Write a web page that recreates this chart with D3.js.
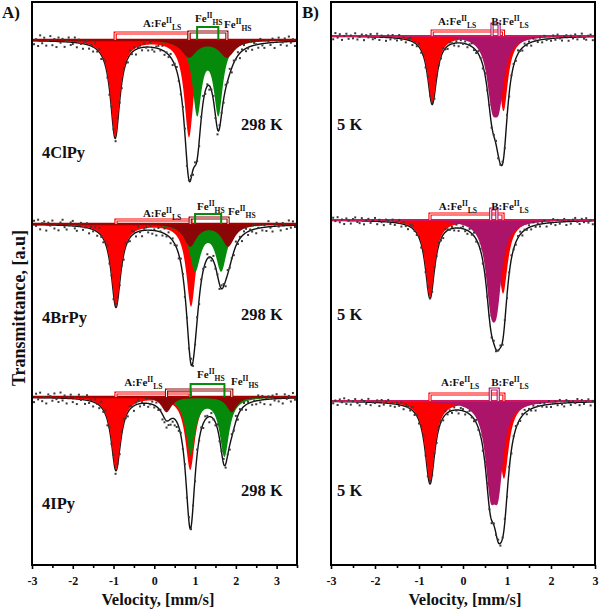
<!DOCTYPE html>
<html><head><meta charset="utf-8">
<script src="https://cdn.jsdelivr.net/npm/d3@7"></script>
<style>
body{margin:0;background:#fff}
text{font-family:"Liberation Serif","Times New Roman",serif;font-weight:bold;fill:#111}
</style>
</head><body><svg id="c" width="600" height="610"></svg>
<script>
// ---------------- DATA ----------------
const ticks = [-3,-2,-1,0,1,2,3];
const minorTicksA = [-2.5,-1.5,-0.5,0.5,1.5,2.5,3.5];
const minorTicksB = [-2.5,-1.5,-0.5,0.5,1.5,2.5];
const samplesA = ["4ClPy","4BrPy","4IPy"];
const tempsA = ["298 K","298 K","298 K"];
const tempsB = ["5 K","5 K","5 K"];
const baseA = [93.25, 60.57, 29.84];   // transmittance baselines (a.u.)
const baseB = [93.96, 61.28, 29.13];

// Panel A, site A Fe(II) LS doublets (red)
const lsPosA   = [[-0.96,0.85],[-0.94,0.90],[-0.94,0.88]];
const lsDepthA = [[17.2,17.2],[14.6,14.6],[12.9,12.9]];
const lsWidthA = [0.28,0.28,0.28];
// Panel A, Fe(II) HS doublet (green)
const hs1PosA   = [[1.05,1.57],[1.00,1.64],[0.89,1.72]];
const hs1DepthA = [[12.8,12.8],[8.0,8.0],[10.0,10.4]];
const hs1WidthA = [0.27,0.33,0.28];
// Panel A, second Fe(II) HS doublet (dark red)
const hs2PosA   = [[0.85,1.78],[0.88,1.81],[0.30,1.90]];
const hs2DepthA = [[3.0,3.0],[3.9,3.9],[2.7,2.7]];
const hs2WidthA = [0.45,0.38,0.30];

// Panel B, site A Fe(II) LS (red)
const lsPosB   = [[-0.70,0.92],[-0.75,0.91],[-0.75,0.93]];
const lsDepthB = [[11.9,13.3],[13.7,13.0],[14.4,13.7]];
const lsWidthB = [0.25,0.26,0.27];
// Panel B, site B Fe(II) LS (wine)
const lsbPosB   = [[0.66,0.82],[0.63,0.77],[0.62,0.80]];
const lsbDepthB = [[9.6,9.6],[11.4,11.4],[13.0,13.0]];
const lsbWidthB = [0.28,0.28,0.28];

// measured points: residuals from the fit (0.1 a.u.), channels every 0.05 mm/s
const noiseA1 = [8,-6,3,-9,10,-4,6,-8,1,9,-7,4,-10,7,-2,5,-9,2,8,-5,
-3,9,-8,6,-1,-9,4,7,-6,2,-8,10,-3,5,-7,1,8,-4,-9,6,
3,-6,9,-2,-8,5,1,-7,8,-3,6,-9,2,4,-5,7,-1,-6,9,-4,
-7,3,5,-2,8,-6,1,-4,6,-8,2,7,-3,-5,4,9,-7,0,5,-9,
6,-2,-8,4,10,-5,3,-7,1,8,-4,-9,5,2,-6,7,-3,9,-8,4,
-1,6,-9,3,8,-5,-2,10,-7,4,1,-6,9,-3,-8,5,2,-4,7,-10,
3,8,-5,-1,6,-7,9,-2,4,-8,5];
const noiseA2 = [-5,7,-2,9,-8,3,6,-10,4,-1,8,-6,2,-9,5,10,-3,-7,1,6,
9,-4,-8,2,7,-5,0,8,-9,4,-3,6,-7,10,-2,-6,3,9,-5,1,
-8,5,7,-3,2,-9,6,-1,-6,8,4,-7,9,-2,-10,3,5,-4,8,-6,
2,-8,6,1,-5,9,-3,7,-9,4,-2,5,-7,8,3,-6,1,-4,10,-8,
-2,6,-9,5,3,-7,8,-1,-5,9,-3,2,-8,6,4,-10,7,-2,1,-6,
8,-4,3,-9,5,7,-6,2,-3,9,-8,1,6,-5,4,-7,10,-2,-9,3,
6,-1,-8,5,2,-6,9,-4,7,-3,-9];
const noiseA3 = [4,-8,7,-3,9,-6,1,-10,6,3,-5,8,-2,-7,10,-4,5,-9,2,7,
-6,3,-9,8,-1,5,-7,9,-4,2,-8,6,0,-5,10,-3,7,-9,4,-2,
8,-6,3,-8,5,9,-2,-7,6,1,-9,4,7,-5,2,-3,8,-6,-1,5,
-4,7,-3,2,-9,-7,-12,-8,-10,-6,-11,-9,-7,4,-2,6,-5,8,-3,1,
-7,9,-2,4,-8,6,3,-10,7,-1,-5,8,-4,2,9,-6,1,-8,5,-3,
10,-7,4,-2,6,-9,3,8,-5,1,-6,9,-4,7,-8,2,5,-10,6,-3,
8,-5,2,-9,7,-1,4,-6,9,-3,5];
const noiseB1 = [3,-5,6,-2,4,-6,1,5,-4,2,-3,6,-5,0,4,-6,3,-1,5,-4,
-2,6,-5,3,1,-6,4,-3,5,-1,-4,6,-2,3,-5,2,5,-6,1,-3,
6,-4,2,-5,3,-1,4,-6,5,0,-3,6,-2,-5,4,1,-4,3,-6,5,
-1,4,-5,2,6,-3,-4,5,1,-6,3,-2,5,-4,2,6,-5,-1,4,-3,
5,-6,2,3,-4,6,-1,-5,4,-2,3,-6,5,1,-3,4,-5,6,-2,0,
-4,5,-3,6,-1,-5,2,4,-6,3,-2,5,-4,1,6,-3,-5,2,4,-6,3];
const noiseB2 = [-4,5,-1,6,-3,2,-6,4,0,-5,3,6,-2,-4,5,-6,1,4,-3,2,
6,-5,3,-1,-6,4,2,-3,5,-4,1,6,-5,3,-2,-6,4,5,-1,-3,
2,-6,5,-4,3,1,-5,6,-2,4,-3,-6,5,2,-1,3,-4,6,-5,1,
4,-3,-6,5,-2,6,-4,1,3,-5,2,-1,6,-4,5,-3,0,4,-6,3,
-5,2,6,-1,-4,3,5,-6,1,-2,4,-5,6,-3,2,-4,3,5,-6,1,
-2,6,-5,4,-3,1,5,-6,2,-4,3,6,-1,-5,4,-2,5,-3,1,-6,4];
const noiseB3 = [5,-3,2,-6,4,-1,6,-4,3,-5,1,5,-2,-6,4,2,-3,6,-5,0,
-1,4,-6,5,-3,2,6,-4,1,-5,3,-2,5,-6,4,1,-3,6,-4,2,
-5,3,6,-1,-4,5,-2,4,-6,3,1,-5,6,-3,2,-4,5,-1,-6,4,
3,-5,1,6,-2,-4,5,-3,2,-6,4,6,-1,-5,3,-2,5,-4,1,6,
-3,4,-6,2,5,-1,-4,3,6,-5,2,-3,4,-6,1,5,-2,3,-4,6,
-5,1,4,-3,6,-2,-6,5,3,-4,2,-1,6,-5,4,-3,1,5,-6,2,-4];
const noiseA = [noiseA1, noiseA2, noiseA3];
const noiseB = [noiseB1, noiseB2, noiseB3];

// ---------------- LAYOUT / STYLE ----------------
const C = {red:"#ff0000", green:"#068a0c", dred:"#8b0606", wine:"#ab1468",
           baseA:"#a30000", baseB:"#d3145e"};
const svg = d3.select("#c");
const y = d3.scaleLinear().domain([0,100]).range([565,2]);
const xA = d3.scaleLinear().domain([-3,3.5]).range([32,297]);
const xB = d3.scaleLinear().domain([-3,3]).range([331,595]);

const lor = (v,c,g) => 1/(1+Math.pow((v-c)/(g/2),2));
const doublet = (p,d,g) => v => d[0]*lor(v,p[0],g)+d[1]*lor(v,p[1],g);

function clip(id,x){
  svg.append("clipPath").attr("id",id).append("rect")
    .attr("x",x.range()[0]).attr("y",2).attr("width",x.range()[1]-x.range()[0]).attr("height",563);
}
clip("cA",xA); clip("cB",xB);

function fe(g, xx, yy, pre, sub){
  const t = g.append("text").attr("x",xx).attr("y",yy).style("font-size","11px");
  t.append("tspan").text(pre+"Fe");
  t.append("tspan").attr("dy",-4).style("font-size","7.5px").text("II");
  t.append("tspan").attr("dy",7).style("font-size","7.5px").text(sub);
}
function bracket(g,x,base,pos,h,color,hollow){
  const yb = y(base);
  const d = `M${x(pos[0])},${yb}V${yb-h}H${x(pos[1])}V${yb}`;
  g.append("path").attr("d",d).attr("fill","none").attr("stroke",color)
   .attr("stroke-width",hollow?3.2:2);
  if(hollow) g.append("path").attr("d",d).attr("fill","none").attr("stroke","#fff").attr("stroke-width",1);
}

function drawSpectrum(g, x, base, comps, vmax){
  const fine = d3.range(-3, vmax+0.0001, 0.01);
  const total = v => d3.sum(comps, c => c.f(v));
  g.append("path").datum(fine)
    .attr("d", d3.line().x(v=>x(v)).y(v=>y(base-total(v))))
    .attr("fill","none").attr("stroke","#111").attr("stroke-width",1.4);
  comps.forEach(c=>{
    g.append("path").datum(fine)
      .attr("d", d3.area().x(v=>x(v)).y0(y(base)).y1(v=>y(base-c.f(v))))
      .attr("fill", c.color);
  });
  return total;
}
function drawPoints(g,x,base,total,noise){
  const pts = noise.map((n,i)=>({v:-3+i*0.05, t:base-total(-3+i*0.05)+n*0.1}));
  g.selectAll(null).data(pts).enter().append("rect")
    .attr("x",d=>x(d.v)-1).attr("y",d=>y(d.t)-1).attr("width",2).attr("height",2)
    .attr("fill","#3a3a3a");
}

// ---------- Panel A ----------
const gA = svg.append("g").attr("clip-path","url(#cA)");
const brA = {ls:[7,4,4], hs1:[13,10,13], hs2:[8,6,7]};
const lblA = {ls:[[-0.28,13],[-0.28,7],[-0.74,11]], hs1:[[1.0,18],[1.05,14],[1.05,19]], hs2:[[1.71,12],[1.81,9],[1.88,12]]};
const sampleY = [158,323,509], tempY = [130,320,496];
const totalsA = [];
for(let i=0;i<3;i++){
  const comps = [
    {f:doublet(lsPosA[i],lsDepthA[i],lsWidthA[i]), color:C.red},
    {f:doublet(hs1PosA[i],hs1DepthA[i],hs1WidthA[i]), color:C.green},
    {f:doublet(hs2PosA[i],hs2DepthA[i],hs2WidthA[i]), color:C.dred}];
  totalsA.push(drawSpectrum(gA,xA,baseA[i],comps,3.5));
}
for(let i=0;i<3;i++){
  gA.append("line").attr("x1",32).attr("x2",297).attr("y1",y(baseA[i])).attr("y2",y(baseA[i]))
    .attr("stroke",C.baseA).attr("stroke-width",2.4);
  bracket(gA,xA,baseA[i],lsPosA[i],brA.ls[i],C.red,true);
  bracket(gA,xA,baseA[i],hs2PosA[i],brA.hs2[i],C.dred,true);
  bracket(gA,xA,baseA[i],hs1PosA[i],brA.hs1[i],C.green,false);
  drawPoints(gA,xA,baseA[i],totalsA[i],noiseA[i]);
}
for(let i=0;i<3;i++){
  const yb = y(baseA[i]);
  fe(svg,xA(lblA.ls[i][0]),yb-lblA.ls[i][1],"A:","LS");
  fe(svg,xA(lblA.hs1[i][0]),yb-lblA.hs1[i][1],"","HS");
  fe(svg,xA(lblA.hs2[i][0]),yb-lblA.hs2[i][1],"","HS");
  svg.append("text").attr("x",42).attr("y",sampleY[i]).style("font-size","16.5px").text(samplesA[i]);
  svg.append("text").attr("x",241).attr("y",tempY[i]).style("font-size","16.5px").text(tempsA[i]);
}

// ---------- Panel B ----------
const gB = svg.append("g").attr("clip-path","url(#cB)");
const brB = {a:[5,6,7], b:[12,11,12]};
const lblB = {a:[[-0.57,11],[-0.55,10],[-0.5,15]], b:[[0.64,11],[0.64,10],[0.64,15]]};
const totalsB = [];
for(let i=0;i<3;i++){
  const comps = [
    {f:doublet(lsPosB[i],lsDepthB[i],lsWidthB[i]), color:C.red},
    {f:doublet(lsbPosB[i],lsbDepthB[i],lsbWidthB[i]), color:C.wine}];
  totalsB.push(drawSpectrum(gB,xB,baseB[i],comps,3));
}
for(let i=0;i<3;i++){
  gB.append("line").attr("x1",331).attr("x2",595).attr("y1",y(baseB[i])).attr("y2",y(baseB[i]))
    .attr("stroke",C.baseB).attr("stroke-width",1.8);
  bracket(gB,xB,baseB[i],lsPosB[i],brB.a[i],C.red,true);
  bracket(gB,xB,baseB[i],lsbPosB[i],brB.b[i],C.wine,true);
  drawPoints(gB,xB,baseB[i],totalsB[i],noiseB[i]);
}
for(let i=0;i<3;i++){
  const yb = y(baseB[i]);
  fe(svg,xB(lblB.a[i][0]),yb-lblB.a[i][1],"A:","LS");
  fe(svg,xB(lblB.b[i][0]),yb-lblB.b[i][1],"B:","LS");
  svg.append("text").attr("x",337).attr("y",tempY[i]).style("font-size","16.5px").text(tempsB[i]);
}

// ---------- Frames & axes ----------
function frame(x, minor){
  const x0=x.range()[0], x1=x.range()[1];
  svg.append("rect").attr("x",x0).attr("y",2).attr("width",x1-x0).attr("height",563)
    .attr("fill","none").attr("stroke","#000").attr("stroke-width",2);
  const ax = svg.append("g").attr("transform","translate(0,565)")
    .call(d3.axisBottom(x).tickValues(ticks).tickSize(4).tickPadding(7).tickFormat(d => String(d)));
  ax.select(".domain").remove();
  ax.selectAll("line").attr("stroke","#000").attr("stroke-width",1.6);
  ax.selectAll("text").style("font-size","12px").attr("fill","#111")
    .style("font-family",'"Liberation Serif",serif').style("font-weight","bold");
  const mx = svg.append("g").attr("transform","translate(0,565)")
    .call(d3.axisBottom(x).tickValues(minor).tickSize(3).tickFormat(""));
  mx.select(".domain").remove();
  mx.selectAll("line").attr("stroke","#000").attr("stroke-width",1.6);
}
frame(xA, minorTicksA); frame(xB, minorTicksB);

svg.append("text").attr("x",158).attr("y",605).attr("text-anchor","middle").style("font-size","16.5px").text("Velocity, [mm/s]");
svg.append("text").attr("x",465).attr("y",605).attr("text-anchor","middle").style("font-size","16.5px").text("Velocity, [mm/s]");
svg.append("text").attr("transform","translate(25,308) rotate(-90)").attr("text-anchor","middle")
  .style("font-size","18px").text("Transmittance, [a.u]");
svg.append("text").attr("x",2).attr("y",18).style("font-size","17px").text("A)");
svg.append("text").attr("x",302).attr("y",18).style("font-size","17px").text("B)");
</script></body></html>
